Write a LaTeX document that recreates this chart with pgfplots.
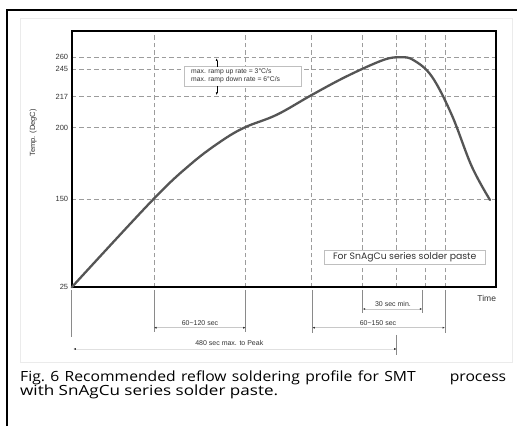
\documentclass[border=0pt]{standalone}
\usepackage{pgfplots}
\pgfplotsset{compat=1.18}
\usepackage{fontspec}
\setmainfont{Liberation Sans}
\newfontfamily\capfont[FakeStretch=1.12]{Open Sans}
\newfontfamily\capfontb[FakeStretch=1.22]{Open Sans}
\newfontfamily\boxfont{Poppins}
\usetikzlibrary{arrows.meta}
\definecolor{gridgray}{HTML}{9C9C9C}
\definecolor{curvegray}{HTML}{555555}
\definecolor{txtgray}{HTML}{333333}
\definecolor{dimgray}{HTML}{8A8A8A}
\definecolor{lightdim}{HTML}{C8C8C8}
\begin{document}
\begin{tikzpicture}
\path[use as bounding box] (0pt,0pt) rectangle (517pt,426pt);
\fill[white] (0pt,0pt) rectangle (517pt,426pt);
\draw[line width=1.5pt] (7pt,0pt) -- (7pt,416pt) -- (517pt,416pt);
\draw[black!8, line width=0.8pt] (20pt,64pt) rectangle (512pt,408pt);
\begin{axis}[
  at={(71.7pt,138.7pt)}, anchor=south west,
  scale only axis, width=424.3pt, height=256.3pt,
  xmin=0, xmax=424.3, ymin=0, ymax=256.3,
  clip=false,
  axis line style={line width=1.6pt, black},
  xtick={82.3,174,240,291,325,354,373.3}, xticklabels={},
  ytick={88,159.6,190.6,218.3,230},
  yticklabels={150,200,217,245,260},
  extra y ticks={0}, extra y tick labels={25},
  extra y tick style={grid=none},
  major tick length=0pt,
  grid=major,
  major grid style={gridgray, dash pattern=on 4.5pt off 3pt, line width=0.8pt},
  tick label style={font=\fontsize{7.5}{8}\selectfont, text=txtgray},
  /pgf/number format/assume math mode=true,
]
\addplot[curvegray, line width=2.3pt, smooth, tension=0.6, line cap=round] coordinates {
(0,0) (81.6,88) (120,124) (150,146.5) (173.3,160) (205,172.5) (240,192.3)
(275,211) (311.6,227.3) (329,230) (341.6,227.3) (360,211) (380,172.5)
(400,121) (418.3,87.3)};
% ramp box
\draw[black!25, fill=white, line width=0.6pt] (112.6,201.3) rectangle (230,220.6);
\node[anchor=west, align=left, inner sep=0pt, text=txtgray,
  font=\fontsize{6.8}{8.3}\selectfont] at (119.3,211.8)
  {max. ramp up rate = 3°C/s\\max. ramp down rate = 6°C/s};
\draw[black, line width=0.4pt, -{Latex[length=2.5pt,width=2pt]}] (145,220.6) -- (145,229);
\draw[black, line width=0.4pt, -{Latex[length=2.5pt,width=2pt]}] (145,201.3) -- (145,192.3);
% SnAgCu box
\draw[black!25, fill=white, line width=0.6pt] (252.6,23) rectangle (413.3,37.3);
\node[inner sep=0pt, text=txtgray, font=\boxfont\fontsize{9.3}{10}\selectfont] at (333,30.2) {For SnAgCu series solder paste};
% dimension lines
\draw[dimgray, line width=0.5pt] (0,-2.7) -- (0,-49.4);
\draw[dimgray, line width=0.5pt] (82.3,-2.7) -- (82.3,-44.4);
\draw[dimgray, line width=0.5pt] (174,-2.7) -- (174,-44.4);
\draw[dimgray, line width=0.5pt] (240.6,-2.7) -- (240.6,-46);
\draw[dimgray, line width=0.5pt] (373.3,-2.7) -- (373.3,-46);
\draw[dimgray, line width=0.5pt] (291,-2.7) -- (291,-26);
\draw[dimgray, line width=0.5pt] (350.6,-2.7) -- (350.6,-26);
\draw[dimgray, line width=0.5pt] (325,-47.7) -- (325,-67.7);
\draw[lightdim, line width=0.6pt, {Latex[length=2.5pt,width=2pt,color=txtgray]}-{Latex[length=2.5pt,width=2pt,color=txtgray]}] (82.3,-40.4) -- (174,-40.4);
\draw[lightdim, line width=0.6pt, {Latex[length=2.5pt,width=2pt,color=txtgray]}-{Latex[length=2.5pt,width=2pt,color=txtgray]}] (240.6,-40.4) -- (373.3,-40.4);
\draw[lightdim, line width=0.6pt, {Latex[length=2.5pt,width=2pt,color=txtgray]}-{Latex[length=2.5pt,width=2pt,color=txtgray]}] (291,-21.7) -- (350.6,-21.7);
\draw[black!12, line width=0.8pt, {Latex[length=2.5pt,width=2pt,color=txtgray]}-{Latex[length=2.5pt,width=2pt,color=txtgray]}] (1.6,-61.7) -- (325,-61.7);
\node[text=txtgray, font=\fontsize{7}{8}\selectfont, inner sep=0pt] at (128.3,-35.4) {60\textasciitilde120 sec};
\node[text=txtgray, font=\fontsize{7}{8}\selectfont, inner sep=0pt] at (306.3,-35.4) {60\textasciitilde150 sec};
\node[text=txtgray, font=\fontsize{7}{8}\selectfont, inner sep=0pt] at (321.3,-16.7) {30 sec min.};
\node[text=txtgray, font=\fontsize{7}{8}\selectfont, inner sep=0pt] at (157.6,-56) {480 sec max. to Peak};
\node[text=txtgray, font=\fontsize{8.5}{9}\selectfont, inner sep=0pt] at (415,-11) {Time};
\end{axis}
\node[rotate=90, text=txtgray, font=\fontsize{7.5}{8}\selectfont] at (33.3pt,293pt) {Temp. (DegC)};
\node[anchor=base west, inner sep=0pt, font=\capfont\fontsize{14}{14}\selectfont] at (20pt,44.3pt)
  {\makebox[486pt][s]{Fig.\ 6 Recommended reflow soldering profile for SMT\hspace{34pt}process}};
\node[anchor=base west, inner sep=0pt, font=\capfontb\fontsize{14}{14}\selectfont] at (20pt,30.3pt)
  {with SnAgCu series solder paste.};
\end{tikzpicture}
\end{document}
